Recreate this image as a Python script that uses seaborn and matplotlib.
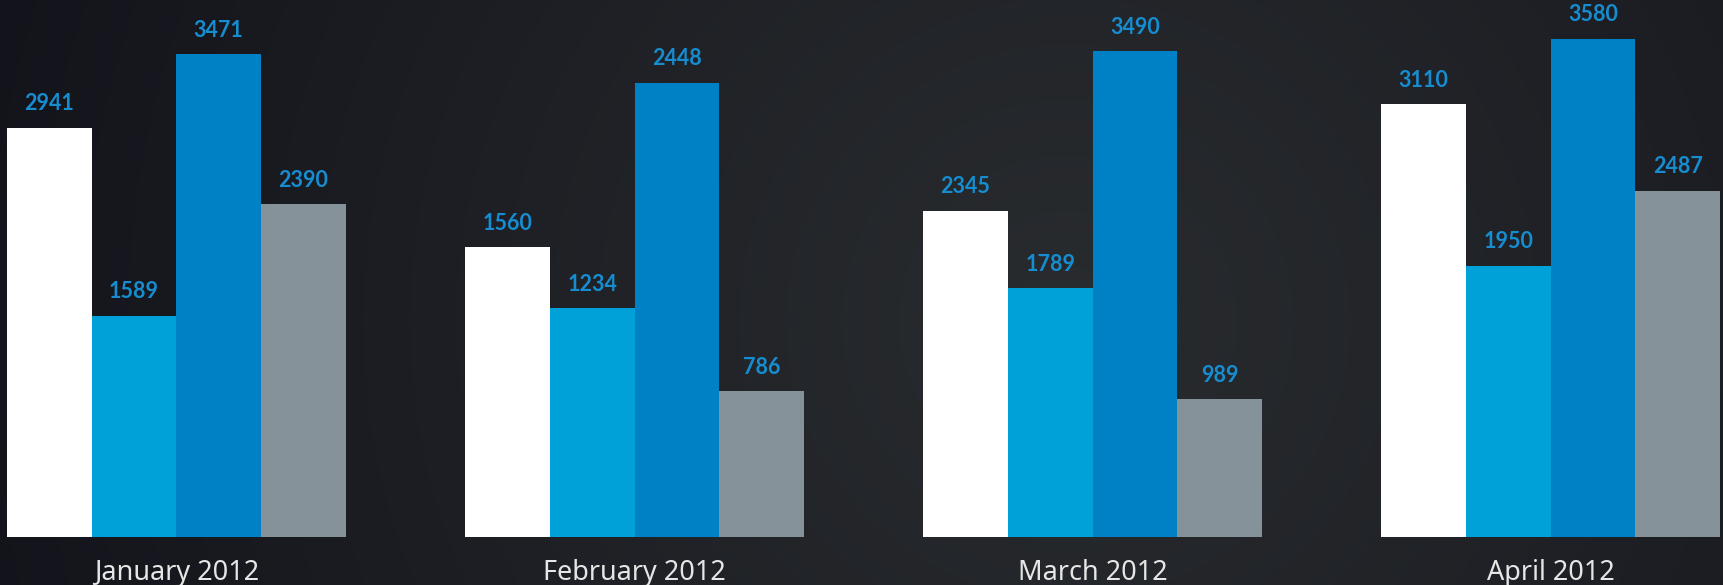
import numpy as np
import pandas as pd
import matplotlib
matplotlib.use("Agg")
import matplotlib.pyplot as plt
import seaborn as sns

# ---- data ----
months = ["January 2012", "February 2012", "March 2012", "April 2012"]
series = ["Series 1", "Series 2", "Series 3", "Series 4"]
# values printed above the bars
labels_s1 = [2941, 1560, 2345, 3110]
labels_s2 = [1589, 1234, 1789, 1950]
labels_s3 = [3471, 2448, 3490, 3580]
labels_s4 = [2390, 786, 989, 2487]
# bar heights as drawn in the picture (February bars are drawn taller than their labels)
heights_s1 = [2941, 2080, 2345, 3110]
heights_s2 = [1589, 1646, 1789, 1950]
heights_s3 = [3471, 3264, 3490, 3580]
heights_s4 = [2390, 1048, 989, 2487]

colors = ["#ffffff", "#00a0d9", "#0081c5", "#85929a"]
label_color = "#168dd0"

rows = []
for s, hs in zip(series, [heights_s1, heights_s2, heights_s3, heights_s4]):
    for m, h in zip(months, hs):
        rows.append({"month": m, "series": s, "height": h})
df = pd.DataFrame(rows)
labels_all = [labels_s1, labels_s2, labels_s3, labels_s4]

sns.set_theme(style="white")
plt.rcParams["font.family"] = ["Noto Sans", "DejaVu Sans"]

W, H = 1723, 585
fig = plt.figure(figsize=(W / 100, H / 100), dpi=100)

# background gradient
bg = fig.add_axes([0, 0, 1, 1], zorder=-10)
yy, xx = np.mgrid[0:1:300j, 0:1:880j]
r = np.sqrt(((xx - 0.62) * 2.9) ** 2 + ((yy - 0.55) * 1.0) ** 2)
t = np.clip(r / 1.9, 0, 1)
c_in = np.array([0x29, 0x2c, 0x2f]) / 255
c_out = np.array([0x13, 0x14, 0x1b]) / 255
img = c_in[None, None, :] * (1 - t[..., None]) + c_out[None, None, :] * t[..., None]
bg.imshow(img, extent=[0, 1, 0, 1], aspect="auto", origin="upper")
bg.set_axis_off()

ax = fig.add_axes([0, 48 / H, 1, 1 - 48 / H])
ax.patch.set_alpha(0)
sns.barplot(data=df, x="month", y="height", hue="series", palette=colors,
            width=0.74, saturation=1, legend=False, ax=ax,
            linewidth=0, edgecolor="none", errorbar=None)

ax.set_xlim(-0.385, 3.376)
ax.set_ylim(0, 3858)

for cont, labs in zip(ax.containers, labels_all):
    for bar, lab in zip(cont, labs):
        x = bar.get_x() + bar.get_width() / 2
        ax.annotate(str(lab), xy=(x, bar.get_height()), xytext=(0, 12.5),
                    textcoords="offset points", ha="center", va="baseline",
                    color=label_color, fontsize=15.5, fontweight="bold",
                    family=["Lato", "DejaVu Sans"])

ax.set_xlabel("")
ax.set_ylabel("")
ax.set_yticks([])
ax.tick_params(axis="x", length=0, pad=16, labelsize=19.5, labelcolor="#e6e6e6")
for sp in ax.spines.values():
    sp.set_visible(False)

fig.savefig("out.png", dpi=100, facecolor="#1c1d22")
